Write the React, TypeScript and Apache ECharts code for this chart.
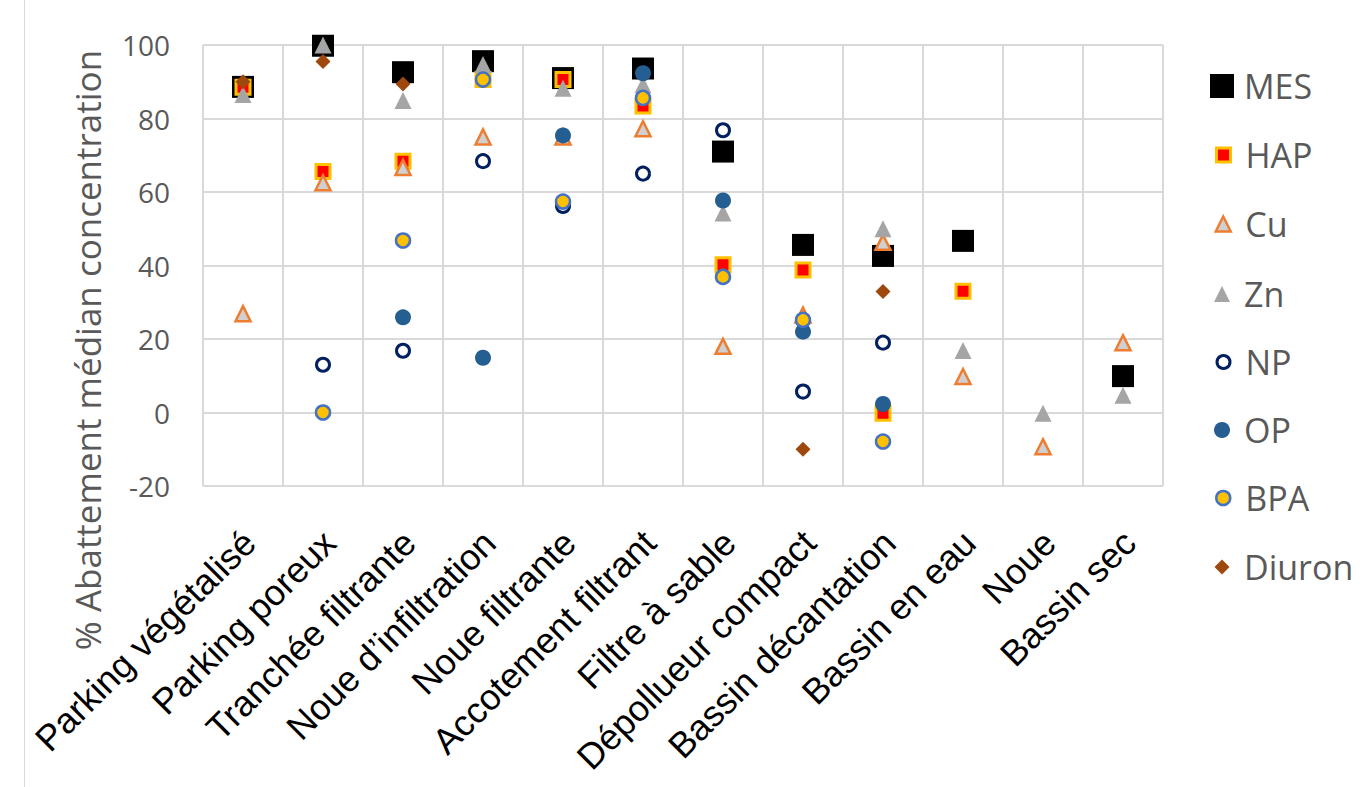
import React, { useEffect, useRef } from "react";
import * as echarts from "echarts";

const categories = [
  "Parking végétalisé",
  "Parking poreux",
  "Tranchée filtrante",
  "Noue d’infiltration",
  "Noue filtrante",
  "Accotement filtrant",
  "Filtre à sable",
  "Dépollueur compact",
  "Bassin décantation",
  "Bassin en eau",
  "Noue",
  "Bassin sec",
];

const yTicks = { min: -20, max: 100, interval: 20 };

const MES = [88.6, 99.8, 92.6, 95.6, 91, 93.6, 71, 45.6, 42.6, 46.7, null, 9.9];
const HAP = [88.5, 65.6, 68.4, 90.6, 90.6, 83.4, 40.2, 38.8, -0.2, 33, null, null];
const Cu = [26.9, 62.5, 66.7, 75, 75, 77.2, 18, 26.5, 46.3, 9.8, -9.3, 19];
const Zn = [86.5, 100, 84.9, 94.7, 88.2, 89.2, 54.3, null, 50, 16.9, -0.2, 4.7];
const NP = [null, 13, 16.8, 68.4, 56.2, 65, 76.8, 5.7, 19, null, null, null];
const OP = [null, null, 25.9, 14.9, 75.4, 92.3, 57.7, 22, 2.3, null, null, null];
const BPA = [null, 0, 46.8, 90.6, 57.4, 85.6, 36.9, 25.2, -7.9, null, null, null];
const Diuron = [90, 95.5, 89.4, null, null, null, null, -10, 32.9, null, null, null];

const seriesDefs = [
  { name: "MES", data: MES, symbol: "rect", size: 22, legendSize: 24, style: { color: "#000000" } },
  { name: "HAP", data: HAP, symbol: "rect", size: 14, legendSize: 14, style: { color: "#FF0000", borderColor: "#FFC000", borderWidth: 3 } },
  { name: "Cu", data: Cu, symbol: "triangle", size: 15, legendSize: 15, style: { color: "#D0D0D0", borderColor: "#ED7D31", borderWidth: 2.5 } },
  { name: "Zn", data: Zn, symbol: "triangle", size: 17, legendSize: 16, style: { color: "#A5A5A5" } },
  { name: "NP", data: NP, symbol: "circle", size: 13, legendSize: 13, style: { color: "#FFFFFF", borderColor: "#002060", borderWidth: 3 } },
  { name: "OP", data: OP, symbol: "circle", size: 16, legendSize: 16, style: { color: "#255E91" } },
  { name: "BPA", data: BPA, symbol: "circle", size: 14, legendSize: 14, style: { color: "#FFC000", borderColor: "#4472C4", borderWidth: 2.5 } },
  { name: "Diuron", data: Diuron, symbol: "diamond", size: 15, legendSize: 15, style: { color: "#9E480E" } },
];

const legendCenters = [86, 155, 224, 294, 362, 430, 498, 567];

export default function App() {
  const ref = useRef<HTMLDivElement>(null);

  useEffect(() => {
    document.body.style.margin = "0";
    const chart = echarts.init(ref.current!, null, { renderer: "svg" });
    const grid = { left: 203, right: 207, top: 45, bottom: 301 };
    const iconCenterX = 1222;
    const textLeft = 1244;

    const legends = seriesDefs.map((s, i) => {
      const sz = s.legendSize;
      const left = iconCenterX - sz / 2;
      const padLeft = textLeft - (left + sz + 5);
      return {
        show: true,
        orient: "vertical",
        left,
        top: legendCenters[i] - 17,
        itemWidth: sz,
        itemHeight: sz,
        itemGap: 0,
        padding: 0,
        selectedMode: false,
        textStyle: {
          fontSize: 34,
          color: "#595959",
          fontFamily: "Open Sans",
          lineHeight: 34,
          padding: [0, 0, 0, padLeft],
        },
        data: [
          {
            name: s.name,
            icon: s.symbol,
            itemStyle: { ...s.style, borderWidth: (s.style as any).borderWidth || 0 },
          },
        ],
      };
    });

    const option: any = {
      animation: false,
      backgroundColor: "#ffffff",
      grid,
      legend: legends,
      xAxis: {
        type: "category",
        data: categories,
        boundaryGap: true,
        axisLine: { show: true, lineStyle: { color: "#D9D9D9", width: 2 } },
        axisTick: { show: false },
        splitLine: { show: true, interval: 0, lineStyle: { color: "#D9D9D9", width: 2 } },
        axisLabel: {
          interval: 0,
          rotate: 45,
          margin: 57,
          padding: [0, -9, 0, 0],
          fontSize: 36,
          color: "#000000",
          fontFamily: "Liberation Sans, Arial, sans-serif",
        },
      },
      yAxis: {
        type: "value",
        min: yTicks.min,
        max: yTicks.max,
        interval: yTicks.interval,
        axisLine: { show: false },
        axisTick: { show: false },
        splitLine: { show: true, lineStyle: { color: "#D9D9D9", width: 2 } },
        axisLabel: {
          margin: 33,
          fontSize: 28,
          color: "#595959",
          fontFamily: "Open Sans",
        },
      },
      graphic: [
        {
          type: "line",
          shape: { x1: 24.5, y1: 0, x2: 24.5, y2: 787 },
          style: { stroke: "#D9D9D9", lineWidth: 1 },
          silent: true,
        },
        {
          type: "text",
          x: 87,
          y: 350,
          rotation: Math.PI / 2,
          style: {
            text: "% Abattement médian concentration",
            fontSize: 35,
            fontFamily: "Open Sans",
            fill: "#595959",
            align: "center",
            verticalAlign: "middle",
          },
          silent: true,
        },
      ],
      series: seriesDefs.map((s) => ({
        type: "scatter",
        name: s.name,
        data: s.data,
        symbol: s.symbol,
        symbolSize: s.size,
        itemStyle: { ...s.style, opacity: 1 },
        emphasis: { disabled: true },
      })),
    };

    chart.setOption(option);
    return () => chart.dispose();
  }, []);

  return (
    <div
      ref={ref}
      style={{ position: "absolute", left: 0, top: 0, width: 1370, height: 787 }}
    />
  );
}
